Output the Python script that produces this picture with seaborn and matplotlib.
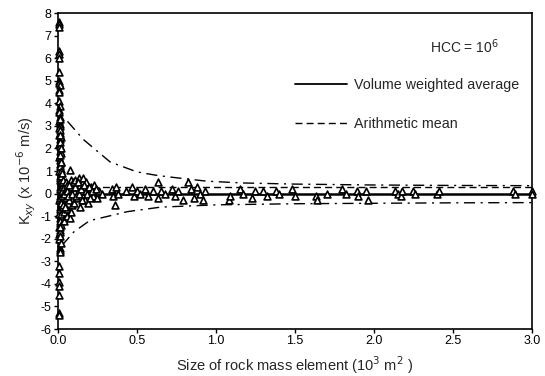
import matplotlib
matplotlib.use('Agg')
import matplotlib.pyplot as plt
import seaborn as sns
import pandas as pd
from matplotlib.lines import Line2D

# element size (10^3 m^2) and Kxy (x 10^-6 m/s)
near_x = [0.004, 0.006, 0.008, 0.005, 0.007, 0.009, 0.006, 0.005, 0.008, 0.010,
          0.006, 0.009, 0.007, 0.011, 0.005, 0.008, 0.012, 0.006, 0.010, 0.014,
          0.007, 0.012, 0.009, 0.015, 0.006, 0.013, 0.010, 0.016, 0.008, 0.014,
          0.011, 0.018, 0.009, 0.015, 0.012, 0.020, 0.010, 0.016, 0.013, 0.008,
          0.017, 0.011, 0.014, 0.009, 0.012, 0.010, 0.007, 0.013, 0.009, 0.008,
          0.011, 0.014, 0.010, 0.006, 0.008, 0.005, 0.007, 0.006, 0.005, 0.006]
near_y = [7.6, 7.5, 7.4, 6.3, 6.2, 6.0, 5.4, 5.0, 4.9, 4.8,
          4.6, 4.5, 4.1, 3.9, 3.7, 3.6, 3.4, 3.2, 3.1, 3.0,
          2.9, 2.7, 2.6, 2.4, 2.2, 2.1, 1.9, 1.8, 1.6, 1.5,
          1.3, 1.1, 1.0, 0.8, 0.6, 0.5, 0.3, 0.1, -0.1, -0.3,
          -0.4, -0.6, -0.8, -0.9, -1.1, -1.3, -1.5, -1.6, -1.8, -2.0,
          -2.4, -2.5, -2.6, -3.2, -3.5, -3.9, -4.1, -4.5, -5.3, -5.4]

# second, denser band of the same column
dense_x = [0.012, 0.016, 0.010, 0.018, 0.014, 0.020, 0.011, 0.017, 0.013, 0.022,
           0.015, 0.019, 0.012, 0.024, 0.016, 0.021, 0.014, 0.026, 0.018, 0.023,
           0.013, 0.025, 0.017, 0.028, 0.015, 0.022, 0.019, 0.027, 0.014, 0.021,
           0.016, 0.012, 0.018, 0.010, 0.015]
dense_y = [2.8, 2.5, 2.3, 2.0, 1.7, 1.4, 1.2, 0.9, 0.7, 0.4,
           0.2, 0.0, -0.2, 0.3, -0.5, 0.6, -0.7, 0.1, -1.0, -0.3,
           -1.2, 0.5, -1.4, -0.6, -1.7, 0.8, -0.9, -0.1, -1.9, 1.0,
           -2.2, 3.3, -0.4, 2.6, -1.5]

small_x = [0.02, 0.025, 0.03, 0.03, 0.035, 0.04, 0.04, 0.045, 0.05, 0.05,
           0.055, 0.06, 0.06, 0.065, 0.07, 0.075, 0.075, 0.08, 0.085, 0.09,
           0.095, 0.10, 0.10, 0.11, 0.12, 0.12, 0.13, 0.14, 0.14, 0.15,
           0.16, 0.17, 0.18, 0.19, 0.20, 0.21, 0.22, 0.23, 0.25, 0.26, 0.28,
           0.035, 0.045, 0.055, 0.065, 0.07, 0.085, 0.09, 0.105, 0.115, 0.125,
           0.135, 0.145, 0.155, 0.165, 0.175, 0.185, 0.195, 0.205, 0.215, 0.24]
small_y = [1.4, 0.9, 0.6, -0.5, -1.2, 0.3, -0.8, 0.1, -0.2, 0.5,
           -1.0, 0.4, -0.7, 0.2, -0.3, 1.05, -1.1, 0.6, 0.3, -0.5,
           0.5, 0.1, -0.4, 0.6, 0.3, -0.2, 0.7, 0.4, -0.6, 0.1,
           0.7, -0.3, 0.5, -0.4, 0.2, 0.3, -0.1, 0.4, -0.2, 0.1, 0.0,
           0.0, -0.6, 0.1, -0.1, 0.4, -0.8, 0.0, 0.3, -0.1, 0.5,
           0.0, 0.2, -0.3, 0.4, 0.1, 0.0, 0.3, -0.2, 0.1, 0.2]

large_x = [0.34, 0.35, 0.36, 0.37, 0.38, 0.43, 0.47, 0.48, 0.50, 0.52,
           0.55, 0.57, 0.60, 0.63, 0.63, 0.65, 0.68, 0.72, 0.74, 0.76,
           0.79, 0.82, 0.84, 0.86, 0.88, 0.90, 0.92, 0.93, 1.08, 1.09,
           1.15, 1.17, 1.23, 1.25, 1.30, 1.32, 1.38, 1.40, 1.48, 1.50,
           1.63, 1.64, 1.70, 1.80, 1.82, 1.89, 1.90, 1.95, 1.96, 2.13,
           2.15, 2.17, 2.18, 2.25, 2.26, 2.40, 2.41, 2.88, 2.89, 3.00, 3.00]
large_y = [0.2, -0.1, -0.5, 0.3, 0.0, 0.1, 0.3, -0.1, 0.1, 0.0,
           0.2, -0.1, 0.1, 0.5, -0.2, 0.1, 0.0, 0.2, -0.1, 0.1,
           -0.3, 0.5, 0.2, -0.2, 0.3, 0.0, -0.3, 0.1, -0.3, -0.1,
           0.2, 0.0, -0.2, 0.1, 0.1, -0.1, 0.1, 0.0, 0.2, -0.1,
           -0.1, -0.3, 0.0, 0.2, 0.0, 0.1, -0.1, 0.1, -0.3, 0.1,
           0.0, -0.1, 0.1, 0.1, 0.0, 0.0, 0.1, 0.1, 0.0, 0.1, 0.0]

# averages
avg_x = [0.0, 3.0]
vol_weighted = [0.0, 0.0]
arith_mean = [0.28, 0.28]

# dash-dot envelopes
upper_x = [0.06, 0.16, 0.33, 0.50, 0.63, 0.75, 0.94, 1.17, 1.5, 2.0, 2.5, 3.0]
upper_y = [3.2, 2.4, 1.4, 0.96, 0.80, 0.70, 0.55, 0.47, 0.42, 0.38, 0.36, 0.35]
lower_x = [0.025, 0.10, 0.20, 0.44, 0.65, 1.0, 1.5, 2.0, 2.5, 3.0]
lower_y = [-2.3, -1.7, -1.2, -0.8, -0.6, -0.5, -0.45, -0.43, -0.41, -0.40]

pts = pd.DataFrame({'x': near_x + dense_x + small_x + large_x,
                    'y': near_y + dense_y + small_y + large_y})

sns.set_theme(style="ticks")
plt.rcParams['font.family'] = ['Liberation Sans', 'DejaVu Sans']
plt.rcParams['axes.unicode_minus'] = False

fig = plt.figure(figsize=(5.45, 3.76), dpi=100)
ax = fig.add_axes([0.1064, 0.125, 0.8697, 0.8404])

sns.lineplot(x=upper_x, y=upper_y, ax=ax, color='black', lw=1.0,
             linestyle=(0, (8, 4, 1.5, 4)))
sns.lineplot(x=lower_x, y=lower_y, ax=ax, color='black', lw=1.0,
             linestyle=(0, (8, 4, 1.5, 4)))
sns.lineplot(x=avg_x, y=arith_mean, ax=ax, color='black', lw=1.0,
             linestyle=(0, (5, 3)))
sns.lineplot(x=avg_x, y=vol_weighted, ax=ax, color='black', lw=1.8)
sns.scatterplot(data=pts, x='x', y='y', ax=ax, marker='^', s=24,
                facecolor='white', edgecolor='black', linewidth=1.2,
                zorder=3, clip_on=False)

ax.set_xlim(0, 3.0)
ax.set_ylim(-6, 8)
ax.set_xticks([0.0, 0.5, 1.0, 1.5, 2.0, 2.5, 3.0])
ax.set_xticklabels(['0.0', '0.5', '1.0', '1.5', '2.0', '2.5', '3.0'])
ax.set_yticks(range(-6, 9))
ax.tick_params(direction='out', length=3, width=1, labelsize=9,
               pad=1.5, colors='black')
for sp in ax.spines.values():
    sp.set_color('black')
    sp.set_linewidth(1.2)

ax.set_xlabel("Size of rock mass element (10$^3$ m$^2$ )", fontsize=10.5,
              labelpad=5)
ax.set_ylabel("K$_{xy}$ (x 10$^{-6}$ m/s)", fontsize=10.5, labelpad=2)

ax.text(0.858, 0.893, "HCC = 10$^6$", transform=ax.transAxes, fontsize=10,
        ha='center', va='center')

handles = [Line2D([], [], color='black', lw=1.3),
           Line2D([], [], color='black', lw=1.0, linestyle=(0, (5, 3)))]
ax.legend(handles, ["Volume weighted average", "Arithmetic mean"],
          loc='upper right', bbox_to_anchor=(1.0, 0.835), frameon=False,
          fontsize=10.3, handlelength=3.6, handletextpad=0.5, labelspacing=1.75)

fig.savefig("out.png", dpi=100)
